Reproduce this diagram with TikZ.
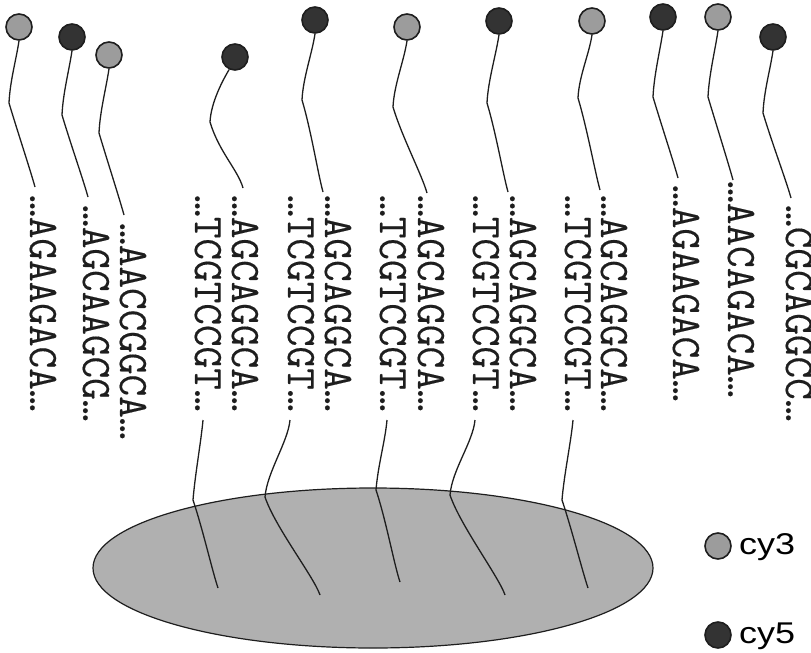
\documentclass[tikz,border=0pt]{standalone}
\usepackage{fontspec}
\setmainfont{Liberation Sans}
\newfontfamily\seqfont[FakeBold=0.3]{Latin Modern Mono}
\usetikzlibrary{shapes.geometric,calc}
\definecolor{cyA}{HTML}{9C9C9C}
\definecolor{cyB}{HTML}{333333}
\definecolor{beadfill}{HTML}{B0B0B0}
\definecolor{ink}{HTML}{1E1E1E}
\begin{document}
\begin{tikzpicture}[x=1pt,y=-1pt,
  dye/.style={circle,draw=ink,line width=1.6pt,minimum size=26pt,inner sep=0pt},
  dyethree/.style={dye,fill=cyA},
  dyefive/.style={dye,fill=cyB},
  seq/.style={anchor=base west,rotate=-90,inner sep=0pt,text=ink,
    font=\seqfont\fontsize{42}{46}\selectfont},
  dna/.style={draw=ink,line width=1.3pt},
  lab/.style={anchor=base west,inner sep=0pt,xscale=1.2,font=\fontsize{30}{34}\selectfont}]
\useasboundingbox (0,0) rectangle (811,653);
\clip (0,0) rectangle (811,653);

% solid support
\node[ellipse,draw=ink,line width=1.2pt,fill=beadfill,minimum width=560pt,
  minimum height=160pt,inner sep=0pt] (bead) at (373,568) {};

% sequences
\node[seq] (s1)  at (30,195)  {…AGAAGACA…};
\node[seq] (s2)  at (83,205)  {…AGCAAGCG…};
\node[seq] (s3)  at (120,223) {…AACCGGCA…};
\node[seq] (s4)  at (195,195) {…TCGTCCGT…};
\node[seq] (s5)  at (232,195) {…AGCAGGCA…};
\node[seq] (s6)  at (288,195) {…TCGTCCGT…};
\node[seq] (s7)  at (325,195) {…AGCAGGCA…};
\node[seq] (s8)  at (380,195) {…TCGTCCGT…};
\node[seq] (s9)  at (418,195) {…AGCAGGCA…};
\node[seq] (s10) at (473,195) {…TCGTCCGT…};
\node[seq] (s11) at (510,195) {…AGCAGGCA…};
\node[seq] (s12) at (565,195) {…TCGTCCGT…};
\node[seq] (s13) at (601,195) {…AGCAGGCA…};
\node[seq] (s14) at (673,185) {…AGAAGACA…};
\node[seq] (s15) at (728,181) {…AACAGACA…};
\node[seq] (s16) at (786,205) {…CGCAGGCC…};

% dyes
\node[dyethree] (c1)  at (19,27)  {};
\node[dyefive]  (c2)  at (72,37)  {};
\node[dyethree] (c3)  at (109,55) {};
\node[dyefive]  (c5)  at (235,57) {};
\node[dyefive]  (c7)  at (315,20) {};
\node[dyethree] (c9)  at (407,27) {};
\node[dyefive]  (c11) at (499,21) {};
\node[dyethree] (c13) at (592,21) {};
\node[dyefive]  (c14) at (663,17) {};
\node[dyethree] (c15) at (718,17) {};
\node[dyefive]  (c16) at (773,37) {};

% kinks and free ends of the labelled strands
\coordinate (k1)  at (9,103);   \coordinate (t1)  at (35,187);
\coordinate (k2)  at (62,115);  \coordinate (t2)  at (88,197);
\coordinate (k3)  at (99,133);  \coordinate (t3)  at (124,215);
\coordinate (k5)  at (210,122); \coordinate (t5)  at (243,188);
\coordinate (k7)  at (302,100); \coordinate (t7)  at (323,192);
\coordinate (k9)  at (393,107); \coordinate (t9)  at (427,193);
\coordinate (k11) at (487,103); \coordinate (t11) at (508,192);
\coordinate (k13) at (578,98);  \coordinate (t13) at (600,190);
\coordinate (k14) at (653,97);  \coordinate (t14) at (678,178);
\coordinate (k15) at (708,97);  \coordinate (t15) at (733,180);
\coordinate (k16) at (763,113); \coordinate (t16) at (791,198);

\foreach \i in {1,2,3,7,9,11,13,14,15,16}{
  \draw[dna] (c\i.south) .. controls +(-3,20) and +(1,-22) .. (k\i)
             .. controls +(9,30) and +(-5,-18) .. (t\i);
}
\draw[dna] (c5.-115) .. controls +(-6,10) and +(1,-20) .. (k5)
           .. controls +(9,30) and +(-5,-18) .. (t5);

% immobilised strands
\coordinate (b4)  at (203,420); \coordinate (m4)  at (193,500); \coordinate (e4)  at (218,588);
\coordinate (b6)  at (290,420); \coordinate (m6)  at (265,497); \coordinate (e6)  at (320,595);
\coordinate (b8)  at (387,420); \coordinate (m8)  at (376,490); \coordinate (e8)  at (400,582);
\coordinate (b10) at (475,420); \coordinate (m10) at (450,495); \coordinate (e10) at (505,595);
\coordinate (b12) at (573,420); \coordinate (m12) at (562,500); \coordinate (e12) at (588,588);
\foreach \i in {4,6,8,10,12}{
  \draw[dna] (b\i) .. controls +(-2,22) and +(2,-25) .. (m\i)
             .. controls +(10,30) and +(-6,-18) .. (e\i);
}

% legend
\node[dyethree] (l3) at (718,546) {};
\node[lab] (n3) at (739,554) {cy3};
\node[dyefive] (l5) at (718,635) {};
\node[lab] (n5) at (739,643) {cy5};
\end{tikzpicture}
\end{document}
